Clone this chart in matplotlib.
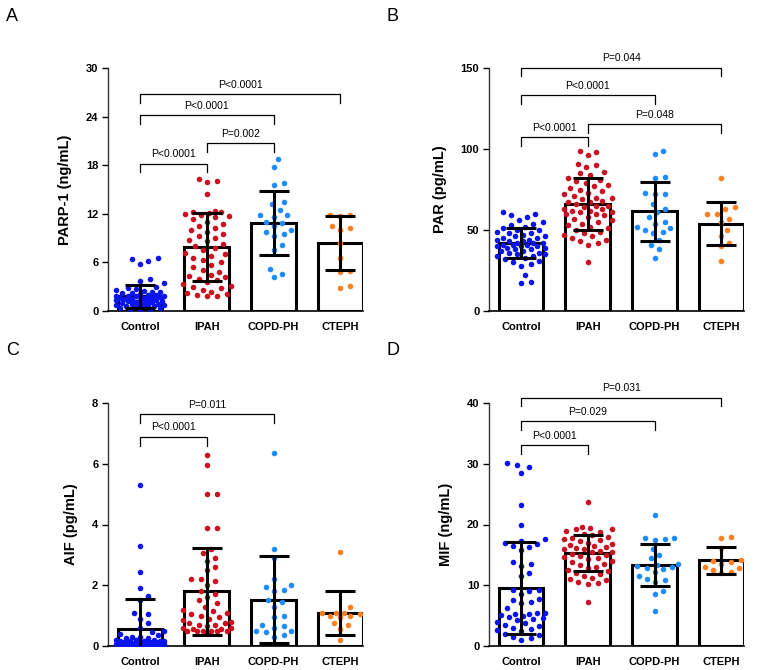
"""Four-panel bar + scatter chart: PARP-1, PAR, AIF and MIF by group
Run: python3 plot.py
"""
import numpy as np
import matplotlib
matplotlib.use('Agg')
import matplotlib.pyplot as plt

plt.rcParams['font.family'] = ['Liberation Sans', 'DejaVu Sans']

groups = ['Control', 'IPAH', 'COPD-PH', 'CTEPH']
colors = ['#0a14f0', '#cc1020', '#1e8cff', '#ff8020']

# ---- panel A: PARP-1 (ng/mL)
parp_control = [6.5, 6.4, 6.2, 5.8, 4.0, 3.7, 3.4, 3.0, 2.8, 2.7, 2.6, 2.5, 2.4, 2.3, 2.2, 2.2,
                2.1, 2.0, 2.0, 1.9, 1.9, 1.8, 1.8, 1.7, 1.7, 1.6, 1.6, 1.5, 1.5, 1.4, 1.4, 1.3,
                1.3, 1.2, 1.2, 1.1, 1.1, 1.0, 1.0, 0.9, 0.9, 0.8, 0.8, 0.7, 0.7, 0.6, 0.6, 0.5,
                0.5, 0.4, 0.4, 0.3, 0.3, 0.2]
parp_ipah = [16.3, 16.1, 15.9, 14.5, 12.3, 12.2, 12.2, 12.1, 12.0, 11.9, 11.7, 11.6, 11.0, 10.8,
             10.5, 10.3, 9.8, 9.5, 9.3, 9.0, 8.6, 8.3, 8.0, 7.8, 7.5, 7.2, 7.0, 6.6, 6.3, 6.0,
             5.7, 5.4, 5.1, 4.8, 4.5, 4.3, 4.0, 3.8, 3.6, 3.3, 3.0, 2.8, 2.6, 2.4, 2.2, 2.1,
             2.0, 1.9, 1.8, 3.1, 4.2, 6.8, 8.8, 10.0, 11.3]
parp_copd = [18.8, 17.8, 15.8, 15.6, 13.5, 13.2, 12.5, 11.9, 11.8, 11.6, 11.0, 10.9, 10.5, 10.0,
             9.8, 9.5, 9.3, 8.2, 7.5, 5.2, 4.6, 4.2]
parp_cteph = [11.9, 11.8, 11.7, 10.5, 10.3, 10.0, 8.4, 6.5, 5.0, 4.8, 3.1, 2.8]
parp_mean = [1.8, 7.85, 10.9, 8.4]
parp_sd = [1.4, 4.2, 3.95, 3.3]

# ---- panel B: PAR (pg/mL)
par_control = [61, 60, 59, 58, 56, 55, 54, 53, 52, 51, 50, 50, 49, 48, 48, 47, 46, 46, 45, 45,
               44, 44, 43, 43, 42, 42, 42, 41, 41, 41, 40, 40, 40, 39, 39, 38, 38, 37, 37, 36,
               36, 35, 35, 34, 34, 33, 32, 31, 30, 29, 28, 22, 18, 17]
par_ipah = [99, 98, 96, 91, 90, 89, 86, 85, 84, 82, 81, 80, 79, 78, 77, 76, 75, 74, 73, 72, 71,
            70, 70, 69, 68, 67, 67, 66, 65, 65, 64, 63, 63, 62, 62, 61, 61, 60, 60, 59, 58, 57,
            56, 55, 54, 53, 52, 51, 50, 49, 48, 47, 46, 45, 44, 43, 42, 41, 30]
par_copd = [99, 97, 83, 82, 73, 72, 72, 66, 63, 61, 58, 55, 54, 52, 51, 50, 49, 48, 44, 41, 38, 33]
par_cteph = [82, 64, 63, 60, 60, 57, 55, 50, 46, 42, 40, 31]
par_mean = [42, 66, 61.5, 54]
par_sd = [9.5, 16, 18, 13.5]

# ---- panel C: AIF (pg/mL)
aif_control = [5.3, 3.3, 2.45, 1.9, 1.65, 1.5, 1.1, 1.05, 0.9, 0.75, 0.6, 0.5, 0.45, 0.4, 0.35,
               0.3, 0.3, 0.25, 0.25, 0.2, 0.2, 0.2, 0.18, 0.17, 0.16, 0.15, 0.15, 0.14, 0.13,
               0.12, 0.12, 0.11, 0.1, 0.1, 0.1, 0.09, 0.08, 0.08, 0.07, 0.07, 0.06, 0.06, 0.05,
               0.05, 0.05, 0.04, 0.04, 0.03, 0.03, 0.02, 0.02, 0.01, 0.01, 0.0]
aif_ipah = [6.3, 5.95, 5.0, 5.0, 3.9, 3.9, 3.2, 3.05, 2.9, 2.8, 2.6, 2.5, 2.2, 2.2, 2.15, 2.0,
            1.8, 1.7, 1.6, 1.5, 1.4, 1.3, 1.2, 1.15, 1.1, 1.05, 1.0, 0.95, 0.9, 0.85, 0.8, 0.75,
            0.75, 0.7, 0.7, 0.65, 0.6, 0.6, 0.55, 0.55, 0.5, 0.5, 0.5, 0.5, 0.5, 0.48, 0.45]
aif_copd = [6.35, 3.2, 2.9, 2.2, 2.0, 1.95, 1.85, 1.8, 1.5, 1.45, 1.3, 1.0, 0.95, 0.7, 0.65, 0.6,
            0.5, 0.5, 0.45, 0.35, 0.3]
aif_cteph = [3.1, 1.3, 1.1, 1.1, 1.1, 1.05, 1.0, 1.0, 0.95, 0.75, 0.7, 0.55, 0.2]
aif_mean = [0.57, 1.8, 1.53, 1.09]
aif_sd = [0.97, 1.43, 1.42, 0.72]

# ---- panel D: MIF (ng/mL)
mif_control = [30.2, 29.8, 29.4, 28.5, 23.2, 20.0, 17.6, 17.3, 17.0, 16.8, 16.5, 16.3, 15.8,
               13.8, 13.5, 13.2, 12.0, 11.5, 9.3, 9.2, 9.0, 8.5, 7.8, 7.5, 7.2, 7.0, 6.2, 5.5,
               5.4, 5.3, 5.2, 5.1, 5.0, 4.8, 4.6, 4.5, 4.3, 4.0, 3.8, 3.5, 3.3, 3.0, 2.8, 2.6,
               2.5, 2.0, 1.8, 1.5, 1.3, 1.0]
mif_ipah = [23.7, 19.6, 19.4, 19.3, 19.2, 19.0, 18.8, 18.5, 18.3, 18.0, 17.8, 17.6, 17.5, 17.3,
            17.0, 16.8, 16.6, 16.5, 16.3, 16.2, 16.0, 15.9, 15.7, 15.5, 15.4, 15.2, 15.0, 14.8,
            14.6, 14.5, 14.3, 14.0, 13.8, 13.5, 13.3, 13.0, 12.8, 12.5, 12.3, 12.0, 11.8, 11.5,
            11.2, 11.0, 10.8, 10.5, 10.3, 10.2, 7.3]
mif_copd = [21.6, 17.8, 17.7, 17.6, 17.5, 16.0, 15.0, 14.5, 13.5, 13.3, 13.2, 13.0, 12.8, 12.7,
            12.2, 11.5, 11.0, 10.8, 10.5, 9.0, 8.5, 5.8]
mif_cteph = [17.8, 17.9, 16.2, 14.2, 14.0, 13.9, 13.5, 13.0, 12.8, 12.5, 12.2, 12.0]
mif_mean = [9.6, 15.3, 13.3, 14.1]
mif_sd = [7.6, 3.0, 3.45, 2.2]

panels = [
    dict(tag='A', ylabel='PARP-1 (ng/mL)', ymax=30, ticks=[0, 6, 12, 18, 24, 30],
         pts=[parp_control, parp_ipah, parp_copd, parp_cteph], mean=parp_mean, sd=parp_sd,
         brackets=[(0, 1, 17.1, 'P<0.0001'), (1, 2, 19.6, 'P=0.002'),
                   (0, 2, 23.1, 'P<0.0001'), (0, 3, 25.7, 'P<0.0001')]),
    dict(tag='B', ylabel='PAR (pg/mL)', ymax=150, ticks=[0, 50, 100, 150],
         pts=[par_control, par_ipah, par_copd, par_cteph], mean=par_mean, sd=par_sd,
         brackets=[(0, 1, 102, 'P<0.0001'), (1, 3, 109.8, 'P=0.048'),
                   (0, 2, 127.7, 'P<0.0001'), (0, 3, 144.8, 'P=0.044')]),
    dict(tag='C', ylabel='AIF (pg/mL)', ymax=8, ticks=[0, 2, 4, 6, 8],
         pts=[aif_control, aif_ipah, aif_copd, aif_cteph], mean=aif_mean, sd=aif_sd,
         brackets=[(0, 1, 6.6, 'P<0.0001'), (0, 2, 7.34, 'P=0.011')]),
    dict(tag='D', ylabel='MIF (ng/mL)', ymax=40, ticks=[0, 10, 20, 30, 40],
         pts=[mif_control, mif_ipah, mif_copd, mif_cteph], mean=mif_mean, sd=mif_sd,
         brackets=[(0, 1, 31.6, 'P<0.0001'), (0, 2, 35.6, 'P=0.029'),
                   (0, 3, 39.45, 'P=0.031')]),
]

W, H = 762, 670
AX_H = 243      # axes height in px
UNIT_PX = 67    # px per category step


def swarm_offsets(vals, ymax, diam=8.5, step=2.0, maxoff=24.0):
    # simple beeswarm in pixel space; the spread is capped near the bar width
    ypx = np.asarray(vals, float) / ymax * AX_H
    order = np.argsort(ypx)
    placed = []
    offs = np.zeros(len(ypx))
    cands = [0.0]
    k = 1
    while k * step <= maxoff:
        cands += [k * step, -k * step]
        k += 1
    for i in order:
        best, best_d = None, -1
        for c in cands:
            d = min([np.hypot(c - px, ypx[i] - py) for px, py in placed] or [1e9])
            if d >= diam:
                best = c
                break
            if d > best_d:
                best, best_d = c, d
        offs[i] = best
        placed.append((best, ypx[i]))
    return offs / UNIT_PX


fig = plt.figure(figsize=(W / 100, H / 100), dpi=100)

# axes boxes in pixels: (left, top, right, bottom)
boxes = [(108, 68, 363, 311), (489, 68, 744, 311),
         (108, 403, 363, 646), (489, 403, 744, 646)]
tag_pos = [(6, 8), (387, 8), (6, 342), (387, 342)]

for p, (l, t, r, b), (tx, ty) in zip(panels, boxes, tag_pos):
    ax = fig.add_axes([l / W, 1 - b / H, (r - l) / W, (b - t) / H])
    ymax = p['ymax']
    x = np.arange(len(groups))

    ax.bar(x, p['mean'], width=0.67, color='white', edgecolor='black',
           linewidth=2.2, zorder=2)
    for i, vals in enumerate(p['pts']):
        offs = swarm_offsets(vals, ymax)
        ax.scatter(x[i] + offs, vals, s=16, color=colors[i], linewidths=0, zorder=3)
    ax.errorbar(x, p['mean'], yerr=p['sd'], fmt='none', ecolor='black',
                elinewidth=2.2, capsize=11, capthick=2.2, zorder=4)

    leg = ymax * 0.036
    for i, j, yb, txt in p['brackets']:
        ax.plot([i, i, j, j], [yb, yb + leg, yb + leg, yb], color='black',
                lw=0.9, clip_on=False, zorder=5)
        ax.text((i + j) / 2, yb + leg + ymax * 0.018, txt, ha='center', va='bottom',
                fontsize=7.5, clip_on=False)

    ax.set_xlim(-0.48, 3.34)
    ax.set_ylim(0, ymax)
    ax.set_yticks(p['ticks'])
    ax.set_xticks(x)
    ax.set_xticklabels(groups, fontweight='bold', fontsize=8)
    for lab in ax.get_yticklabels():
        lab.set_fontweight('bold')
        lab.set_fontsize(8)
    ax.tick_params(axis='x', length=0, pad=8)
    ax.tick_params(axis='y', length=4, width=1, direction='out', pad=3)
    ax.set_ylabel(p['ylabel'], fontweight='bold', fontsize=10.5, labelpad=10)
    for s in ['top', 'right']:
        ax.spines[s].set_visible(False)
    ax.spines['left'].set_linewidth(1)
    ax.spines['bottom'].set_linewidth(1.2)
    ax.spines['left'].set_color('#333333')

    fig.text(tx / W, 1 - ty / H, p['tag'], fontsize=13, va='top', ha='left')

fig.savefig('out.png', dpi=100)
